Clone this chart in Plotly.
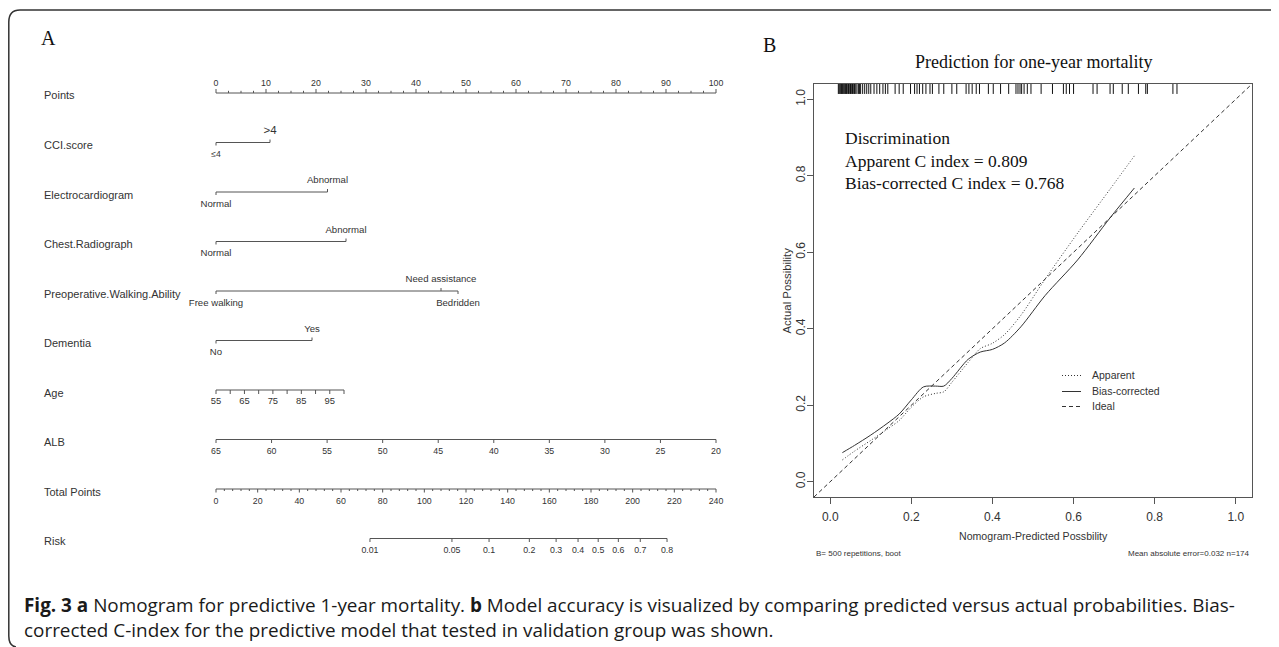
import math
import plotly.graph_objects as go

# The page body has an 8px margin, so the figure is drawn 8px right/down of the window corner.
OFF = 8
W, H = 1279 - OFF, 647 - OFF

# ------------------------------------------------------------------ data: nomogram (panel A)
row_names = ["Points", "CCI.score", "Electrocardiogram", "Chest.Radiograph",
             "Preoperative.Walking.Ability", "Dementia", "Age", "ALB",
             "Total Points", "Risk"]

points_labels = list(range(0, 101, 10))
points_minor_step = 2.5

cci_levels = ["≤4", ">4"]
cci_points = [0, 10.8]
cci_sides = ["below", "above"]

ecg_levels = ["Normal", "Abnormal"]
ecg_points = [0, 22.3]
ecg_sides = ["below", "above"]

chest_levels = ["Normal", "Abnormal"]
chest_points = [0, 26.0]
chest_sides = ["below", "above"]

walk_levels = ["Free walking", "Need assistance", "Bedridden"]
walk_points = [0, 45.0, 48.4]
walk_sides = ["below", "above", "below"]

dementia_levels = ["No", "Yes"]
dementia_points = [0, 19.2]
dementia_sides = ["below", "above"]

age_ticks = [55, 60, 65, 70, 75, 80, 85, 90, 95, 100]
age_labels = [55, 65, 75, 85, 95]
age_points_at_max = 25.6          # points given to age 100

alb_ticks = [65, 60, 55, 50, 45, 40, 35, 30, 25, 20]
alb_points_range = (65, 20)       # ALB 65 -> 0 points, ALB 20 -> 100 points

total_labels = list(range(0, 241, 20))
total_minor_step = 4
total_max = 240

risk_ticks = [0.01, 0.05, 0.1, 0.2, 0.3, 0.4, 0.5, 0.6, 0.7, 0.8]
risk_tick_text = ["0.01", "0.05", "0.1", "0.2", "0.3", "0.4", "0.5", "0.6", "0.7", "0.8"]
risk_intercept = 183.45           # total points at logit(p) = 0
risk_slope = 23.84                # total points per unit logit

# ------------------------------------------------------------------ data: calibration (panel B)
pred_x = [0.03, 0.06, 0.10, 0.14, 0.17, 0.20, 0.23, 0.26, 0.28, 0.30, 0.34, 0.37,
          0.40, 0.43, 0.47, 0.53, 0.61, 0.69, 0.75]
apparent_y = [0.057, 0.080, 0.108, 0.137, 0.160, 0.195, 0.222, 0.231, 0.235, 0.260,
              0.312, 0.348, 0.362, 0.385, 0.435, 0.530, 0.650, 0.765, 0.852]
bias_y = [0.076, 0.095, 0.122, 0.152, 0.177, 0.214, 0.248, 0.250, 0.250, 0.270,
          0.320, 0.339, 0.346, 0.363, 0.405, 0.487, 0.580, 0.690, 0.768]
rug_pred = [0.020, 0.022, 0.024, 0.026, 0.028, 0.030, 0.032, 0.034, 0.036, 0.038,
            0.040, 0.042, 0.045, 0.047, 0.050, 0.052, 0.055, 0.058, 0.060, 0.063,
            0.066, 0.070, 0.072, 0.075, 0.080, 0.085, 0.090, 0.095, 0.100, 0.108,
            0.115, 0.122, 0.130, 0.136, 0.142, 0.160, 0.170, 0.180, 0.198, 0.208,
            0.214, 0.220, 0.228, 0.236, 0.246, 0.252, 0.268, 0.280, 0.300, 0.312,
            0.335, 0.342, 0.350, 0.360, 0.368, 0.390, 0.402, 0.420, 0.440, 0.458,
            0.463, 0.468, 0.472, 0.478, 0.486, 0.495, 0.520, 0.548, 0.575, 0.582,
            0.590, 0.600, 0.648, 0.658, 0.690, 0.698, 0.720, 0.735, 0.760, 0.778,
            0.782, 0.845, 0.855]
legend_names = ["Apparent", "Bias-corrected", "Ideal"]
c_apparent = 0.809
c_bias = 0.768
n_boot = 500
mae = 0.032
n_obs = 174

caption1 = ("<b>Fig. 3 a</b> Nomogram for predictive 1-year mortality. <b>b</b> Model accuracy "
            "is visualized by comparing predicted versus actual probabilities. Bias-")
caption2 = "corrected C-index for the predictive model that tested in validation group was shown."

# ------------------------------------------------------------------ styling / layout constants
SANS = "Liberation Sans, Arial, sans-serif"
SERIF = "Liberation Serif, Times New Roman, serif"
CAP_FONT = "Open Sans, Noto Sans, sans-serif"
TXT = "#333333"
LINE = "#555555"
CURVE = "#333333"

ROW_PX = 49.5            # pixel distance between nomogram rows
ROW0_PX = 93.0           # pixel y of the first nomogram row (window coords)
NX0_PX, NX100_PX = 216.0, 716.0  # pixel x of 0 and 100 points (window coords)
X_PAD = 2.0              # extra points on each side of the nomogram axis

CAL_L, CAL_R, CAL_T, CAL_B = 814, 1252, 84, 497   # calibration plot box (window coords)
AX = [-0.04, 1.04]


def py(px):
    return px / ROW_PX


def paper(xpx, ypx):
    return (xpx - OFF) / W, 1 - (ypx - OFF) / H


def cal_x(px):
    return AX[0] + (px - CAL_L) / (CAL_R - CAL_L) * (AX[1] - AX[0])


def cal_y(pyy):
    return AX[0] + (CAL_B - pyy) / (CAL_B - CAL_T) * (AX[1] - AX[0])


def logit(p):
    return math.log(p / (1 - p))


def total_to_points(tp):
    return tp * 100.0 / total_max


def age_to_points(a):
    return (a - age_ticks[0]) / (age_ticks[-1] - age_ticks[0]) * age_points_at_max


def alb_to_points(v):
    lo, hi = alb_points_range
    return (lo - v) / (lo - hi) * 100.0


def risk_to_points(p):
    return total_to_points(risk_intercept + risk_slope * logit(p))


fig = go.Figure()

line_x, line_y = [], []
txt_x, txt_y, txt_s, txt_size = [], [], [], []


def seg(x0, y0, x1, y1):
    line_x.extend([x0, x1, None])
    line_y.extend([y0, y1, None])


def label(x, y, s, size):
    txt_x.append(x)
    txt_y.append(y)
    txt_s.append(s)
    txt_size.append(size)


TICK_FS = 8.8
CAT_FS = 9.6

# Points row (labels above, ticks up)
r = 0
seg(0, r, 100, r)
k = 0.0
while k <= 100 + 1e-9:
    major = abs(k / 10 - round(k / 10)) < 1e-9
    seg(k, r, k, r - py(4.0 if major else 2.2))
    k += points_minor_step
for v in points_labels:
    label(v, r - py(9.5), str(v), TICK_FS)

# categorical rows
cat_rows = [
    (1, cci_levels, cci_points, cci_sides),
    (2, ecg_levels, ecg_points, ecg_sides),
    (3, chest_levels, chest_points, chest_sides),
    (4, walk_levels, walk_points, walk_sides),
    (5, dementia_levels, dementia_points, dementia_sides),
]
for r, levels, pts, sides in cat_rows:
    seg(min(pts), r, max(pts), r)
    for lev, p, side in zip(levels, pts, sides):
        sgn = -1 if side == "above" else 1
        seg(p, r, p, r + sgn * py(3.0))
        fs = CAT_FS
        if lev == ">4":
            fs = 11.5
        elif lev == "≤4":
            fs = 8.6
        label(p, r + (py(-11.0) if side == "above" else py(12.5)), lev, fs)

# Age row
r = 6
seg(age_to_points(age_ticks[0]), r, age_to_points(age_ticks[-1]), r)
for a in age_ticks:
    seg(age_to_points(a), r, age_to_points(a), r + py(4.0))
for a in age_labels:
    label(age_to_points(a), r + py(11.5), str(a), TICK_FS + 0.6)

# ALB row
r = 7
seg(alb_to_points(alb_ticks[0]), r, alb_to_points(alb_ticks[-1]), r)
for v in alb_ticks:
    seg(alb_to_points(v), r, alb_to_points(v), r + py(3.5))
    label(alb_to_points(v), r + py(12.5), str(v), TICK_FS)

# Total points row
r = 8
seg(0, r, total_to_points(total_max), r)
k = 0
while k <= total_max:
    major = k % 20 == 0
    seg(total_to_points(k), r, total_to_points(k), r + py(3.5 if major else 2.0))
    k += total_minor_step
for v in total_labels:
    label(total_to_points(v), r + py(13.0), str(v), TICK_FS)

# Risk row
r = 9
seg(risk_to_points(risk_ticks[0]), r, risk_to_points(risk_ticks[-1]), r)
for p, t in zip(risk_ticks, risk_tick_text):
    seg(risk_to_points(p), r, risk_to_points(p), r + py(3.5))
    label(risk_to_points(p), r + py(12.0), t, TICK_FS)

fig.add_trace(go.Scatter(x=line_x, y=line_y, mode="lines", xaxis="x", yaxis="y",
                         line=dict(color=LINE, width=1), hoverinfo="skip",
                         showlegend=False))
fig.add_trace(go.Scatter(x=txt_x, y=txt_y, text=txt_s, mode="text", xaxis="x", yaxis="y",
                         textposition="middle center", cliponaxis=False,
                         textfont=dict(family=SANS, size=txt_size, color=TXT),
                         hoverinfo="skip", showlegend=False))

# ------------------------------------------------------------------ calibration traces
rug_top, rug_bot = AX[1], AX[1] - 0.026
rx, ry = [], []
for v in rug_pred:
    rx.extend([v, v, None])
    ry.extend([rug_top, rug_bot, None])
fig.add_trace(go.Scatter(x=rx, y=ry, mode="lines", xaxis="x2", yaxis="y2",
                         line=dict(color="#111111", width=1), hoverinfo="skip",
                         showlegend=False))

styles = {
    "Apparent": dict(color=CURVE, width=1, dash="1px,2px"),
    "Bias-corrected": dict(color=CURVE, width=1),
    "Ideal": dict(color=CURVE, width=1, dash="4px,3px"),
}
fig.add_trace(go.Scatter(x=AX, y=AX, mode="lines", xaxis="x2", yaxis="y2",
                         line=styles["Ideal"], hoverinfo="skip", showlegend=False))
fig.add_trace(go.Scatter(x=pred_x, y=apparent_y, mode="lines", xaxis="x2", yaxis="y2",
                         line=dict(shape="spline", smoothing=0.8, **styles["Apparent"]),
                         hoverinfo="skip", showlegend=False))
fig.add_trace(go.Scatter(x=pred_x, y=bias_y, mode="lines", xaxis="x2", yaxis="y2",
                         line=dict(shape="spline", smoothing=0.8, **styles["Bias-corrected"]),
                         hoverinfo="skip", showlegend=False))

# legend key (drawn like R's legend(): short sample line + text)
LEG_X0, LEG_X1, LEG_TX = 1062, 1081, 1090
LEG_Y = [375.5, 391.5, 406.5]
annotations = []
for name, ly in zip(legend_names, LEG_Y):
    fig.add_trace(go.Scatter(x=[cal_x(LEG_X0), cal_x(LEG_X1)], y=[cal_y(ly), cal_y(ly)],
                             mode="lines", xaxis="x2", yaxis="y2", line=styles[name],
                             hoverinfo="skip", showlegend=False))
    annotations.append(dict(x=cal_x(LEG_TX), xref="x2", y=cal_y(ly), yref="y2", text=name,
                            showarrow=False, xanchor="left", yanchor="middle",
                            font=dict(family=SANS, size=10.5, color=TXT)))

# ------------------------------------------------------------------ layout
nom_x0, _ = paper(NX0_PX - X_PAD * (NX100_PX - NX0_PX) / 100, 0)
nom_x1, _ = paper(NX100_PX + X_PAD * (NX100_PX - NX0_PX) / 100, 0)
_, nom_ytop = paper(0, ROW0_PX - 0.5 * ROW_PX)
_, nom_ybot = paper(0, ROW0_PX + 9.5 * ROW_PX)

cx0, cy_top = paper(CAL_L, CAL_T)
cx1, cy_bot = paper(CAL_R, CAL_B)

axis_common = dict(showline=True, linecolor="#555555", linewidth=1, mirror=True,
                   ticks="outside", ticklen=6, tickcolor="#555555", showgrid=False,
                   zeroline=False, range=AX, tickvals=[0, 0.2, 0.4, 0.6, 0.8, 1.0],
                   ticktext=["0.0", "0.2", "0.4", "0.6", "0.8", "1.0"],
                   tickfont=dict(family=SANS, size=12, color=TXT), fixedrange=True)

for i, name in enumerate(row_names):
    lx, _ = paper(42, 0)
    annotations.append(dict(x=lx, xref="paper", y=i + py(2.5), yref="y", text=name,
                            showarrow=False, xanchor="left", yanchor="middle",
                            font=dict(family=SANS, size=11, color=TXT)))


def ann(xpx, ypx, text, font, xanchor="center", **kw):
    x, y = paper(xpx, ypx)
    d = dict(x=x, y=y, xref="paper", yref="paper", text=text, showarrow=False,
             xanchor=xanchor, yanchor="middle", font=font)
    d.update(kw)
    annotations.append(d)


ann(48, 38, "A", dict(family=SERIF, size=20, color="#111111"))
ann(769, 45, "B", dict(family=SERIF, size=20, color="#111111"))
ann((CAL_L + CAL_R) / 2, 62, "Prediction for one-year mortality",
    dict(family=SERIF, size=18, color="#111111"))
disc = ["Discrimination",
        f"Apparent C index = {c_apparent:.3f}",
        f"Bias-corrected C index = {c_bias:.3f}"]
for j, (s, ly) in enumerate(zip(disc, [138, 160.5, 183])):
    ann(843, ly, s, dict(family=SERIF, size=17.5, color="#111111"), xanchor="left")
ann((CAL_L + CAL_R) / 2, 536, "Nomogram-Predicted Possbility",
    dict(family=SANS, size=10.6, color=TXT))
ann(786, (CAL_T + CAL_B) / 2, "Actual Possibility",
    dict(family=SANS, size=11.4, color=TXT), textangle=-90)
ann(CAL_L, 553, f"B= {n_boot} repetitions, boot",
    dict(family=SANS, size=8, color=TXT), xanchor="left")
ann(CAL_R, 553, f"Mean absolute error={mae} n={n_obs}",
    dict(family=SANS, size=8, color=TXT), xanchor="right")
ann(22, 605, caption1, dict(family=CAP_FONT, size=18.9, color="#1a1a1a"), xanchor="left")
ann(22, 630, caption2, dict(family=CAP_FONT, size=18.9, color="#1a1a1a"), xanchor="left")


# rounded frame
def P(x, y):
    a, b = paper(x, y)
    return f"{a:.5f},{b:.5f}"


frame = (f"M {P(1300, 10)} L {P(20, 10)} Q {P(8.8, 10)} {P(8.8, 22)} "
         f"L {P(8.8, 636)} Q {P(8.8, 646)} {P(16, 647)}")

fig.update_layout(
    width=W, height=H, autosize=False,
    margin=dict(l=0, r=0, t=0, b=0),
    paper_bgcolor="white", plot_bgcolor="rgba(0,0,0,0)",
    xaxis=dict(domain=[nom_x0, nom_x1], range=[-X_PAD, 100 + X_PAD], visible=False,
               fixedrange=True),
    yaxis=dict(domain=[nom_ybot, nom_ytop], range=[9.5, -0.5], visible=False,
               fixedrange=True),
    xaxis2=dict(domain=[cx0, cx1], anchor="y2", ticklabelstandoff=3, **axis_common),
    yaxis2=dict(domain=[cy_bot, cy_top], anchor="x2", tickangle=-90, ticklabelstandoff=-3,
                **axis_common),
    annotations=annotations,
    shapes=[dict(type="path", path=frame, xref="paper", yref="paper",
                 line=dict(color="#333333", width=1.5))],
    showlegend=False,
)

fig.write_html("out.html")
